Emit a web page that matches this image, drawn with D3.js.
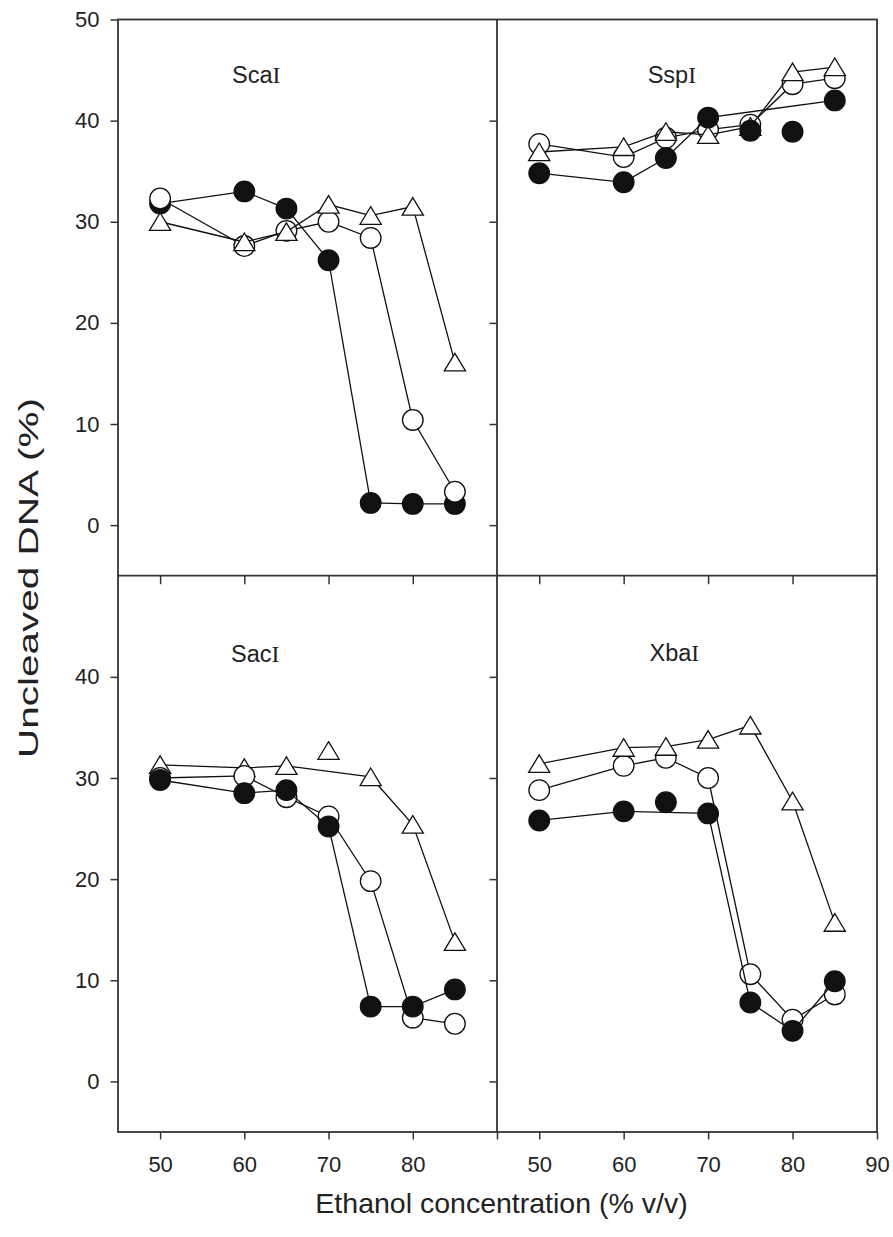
<!DOCTYPE html>
<html>
<head>
<meta charset="utf-8">
<script src="https://cdn.jsdelivr.net/npm/d3@7"></script>
<style>
  html, body { margin: 0; padding: 0; background: #fff; }
  svg { display: block; }
  text { font-family: "Liberation Sans", Arial, sans-serif; fill: #222; }
</style>
</head>
<body>
<svg id="chart" width="893" height="1237"></svg>
<script>
// Ethanol concentrations (% v/v) at which each digest was measured
const conc = [50, 60, 65, 70, 75, 80, 85];

// Uncleaved DNA (%) per enzyme, three conditions each
const scaFilled = [31.8, 33.0, 31.3, 26.2, 2.2, 2.1, 2.1];
const scaOpen   = [32.3, 27.6, 29.1, 30.0, 28.4, 10.4, 3.3];
const scaTri    = [30.0, 28.0, 29.0, 31.7, 30.6, 31.5, 16.1];

const sspFilled = [34.8, 33.9, 36.3, 40.3, 39.0, 38.9, 42.0];
const sspOpen   = [37.7, 36.4, 38.3, 39.1, 39.6, 43.6, 44.2];
const sspTri    = [36.9, 37.4, 38.9, 38.6, 39.4, 44.8, 45.3];

const sacFilled = [29.8, 28.5, 28.8, 25.2, 7.4, 7.4, 9.1];
const sacOpen   = [30.0, 30.2, 28.1, 26.2, 19.8, 6.3, 5.7];
const sacTri    = [31.3, 31.0, 31.2, 32.7, 30.1, 25.4, 13.8];

const xbaFilled = [25.8, 26.7, 27.6, 26.5, 7.8, 5.0, 9.9];
const xbaOpen   = [28.8, 31.2, 32.0, 30.0, 10.6, 6.1, 8.6];
const xbaTri    = [31.4, 33.0, 33.1, 33.8, 35.2, 27.7, 15.7];

// Concentrations plotted as stand-alone symbols (left out of the connecting line)
const sspFilledUnjoined = [75, 80];
const sacTriUnjoined = [70];
const xbaFilledUnjoined = [65];

// Axis ticks
const xTicks = [50, 60, 70, 80, 90];
const yTicksTop = [0, 10, 20, 30, 40, 50];
const yTicksBottom = [0, 10, 20, 30, 40];

// Panel titles: enzyme name (sans part, roman numeral added when drawn)
const enzymes = ["Sca", "Ssp", "Sac", "Xba"];

// ---------------- layout ----------------
const plotL = 118, plotM = 497, plotR = 877;
const plotT = 19.5, plotS = 575.7, plotB = 1132;
const tickLen = 7.5;

const svg = d3.select("#chart");

const xLeft  = d3.scaleLinear().domain([45, 90]).range([plotL, plotM]);
const xRight = d3.scaleLinear().domain([45, 90]).range([plotM, plotR]);
const yTop    = d3.scaleLinear().domain([-5, 50]).range([plotS, plotT]);
const yBottom = d3.scaleLinear().domain([-5, 50]).range([plotB, plotS]);

function series(vals, unjoined, kind) {
  return { pts: conc.map((c, i) => ({ x: c, y: vals[i], joined: !(unjoined || []).includes(c) })), kind };
}

const panels = [
  { name: enzymes[0], x: xLeft,  y: yTop,    tx: 61.4, ty: 43.7,
    order: [series(scaFilled, null, "filled"), series(scaOpen, null, "open"), series(scaTri, null, "tri")] },
  { name: enzymes[1], x: xRight, y: yTop,    tx: 65.7, ty: 43.7,
    order: [series(sspOpen, null, "open"), series(sspTri, null, "tri"), series(sspFilled, sspFilledUnjoined, "filled")] },
  { name: enzymes[2], x: xLeft,  y: yBottom, tx: 61.3, ty: 41.5,
    order: [series(sacTri, sacTriUnjoined, "tri"), series(sacOpen, null, "open"), series(sacFilled, null, "filled")] },
  { name: enzymes[3], x: xRight, y: yBottom, tx: 66.0, ty: 41.6,
    order: [series(xbaOpen, null, "open"), series(xbaTri, null, "tri"), series(xbaFilled, xbaFilledUnjoined, "filled")] }
];

const triPath = "M0,-9L10.6,8.6L-10.6,8.6Z";
const R = 10.3;

panels.forEach(p => {
  const g = svg.append("g");
  const line = d3.line().x(d => p.x(d.x)).y(d => p.y(d.y));
  p.order.forEach(s => {
    const joined = s.pts.filter(d => d.joined);
    g.append("path")
      .attr("d", line(joined))
      .attr("fill", "none")
      .attr("stroke", "#111")
      .attr("stroke-width", 1.3);
    const sel = g.selectAll(null).data(s.pts).enter();
    if (s.kind === "tri") {
      sel.append("path")
        .attr("d", triPath)
        .attr("transform", d => `translate(${p.x(d.x)},${p.y(d.y)})`)
        .attr("fill", "#fff").attr("stroke", "#111").attr("stroke-width", 1.3)
        .attr("stroke-linejoin", "miter");
    } else {
      sel.append("circle")
        .attr("cx", d => p.x(d.x)).attr("cy", d => p.y(d.y)).attr("r", R)
        .attr("fill", s.kind === "filled" ? "#111" : "#fff")
        .attr("stroke", "#111").attr("stroke-width", 1.3);
    }
  });
  const t = g.append("text")
    .attr("x", p.x(p.tx)).attr("y", p.y(p.ty))
    .attr("text-anchor", "middle")
    .style("font-size", "23.5px");
  t.append("tspan").text(p.name);
  t.append("tspan").text("I").style("font-family", '"Liberation Serif", "Times New Roman", serif');
});

// ---------------- axes ----------------
function styleAxis(sel, labels) {
  sel.select(".domain").remove();
  sel.selectAll(".tick line").attr("stroke", "#333").attr("stroke-width", 1.5);
  sel.selectAll(".tick text").style("font-size", "22px")
    .style("font-family", '"Liberation Sans", Arial, sans-serif').attr("fill", "#222");
  if (!labels) sel.selectAll(".tick text").remove();
}

// left axes (outward) with labels
svg.append("g").attr("transform", `translate(${plotL},0)`)
  .call(d3.axisLeft(yTop).tickValues(yTicksTop).tickSize(tickLen).tickPadding(11))
  .call(s => styleAxis(s, true));
svg.append("g").attr("transform", `translate(${plotL},0)`)
  .call(d3.axisLeft(yBottom).tickValues(yTicksBottom).tickSize(tickLen).tickPadding(11))
  .call(s => styleAxis(s, true));

// mirrored ticks on the inner side of the left panels
svg.append("g").attr("transform", `translate(${plotM},0)`)
  .call(d3.axisLeft(yTop).tickValues(yTicksTop.slice(0, 5)).tickSize(tickLen))
  .call(s => styleAxis(s, false));
svg.append("g").attr("transform", `translate(${plotM},0)`)
  .call(d3.axisLeft(yBottom).tickValues(yTicksBottom).tickSize(tickLen))
  .call(s => styleAxis(s, false));

// bottom axes (outward) with labels
svg.append("g").attr("transform", `translate(0,${plotB})`)
  .call(d3.axisBottom(xLeft).tickValues(xTicks).tickSize(tickLen).tickPadding(17)
    .tickFormat(d => d === 90 ? "" : d))
  .call(s => styleAxis(s, true));
svg.append("g").attr("transform", `translate(0,${plotB})`)
  .call(d3.axisBottom(xRight).tickValues(xTicks).tickSize(tickLen).tickPadding(17))
  .call(s => styleAxis(s, true));

// inward ticks along the top of the lower panels
[xLeft, xRight].forEach(xs => {
  svg.append("g").attr("transform", `translate(0,${plotS})`)
    .call(d3.axisBottom(xs).tickValues(xTicks.slice(0, 4)).tickSize(tickLen + 1))
    .call(s => styleAxis(s, false));
});

// panel frames
const frame = svg.append("g").attr("fill", "none").attr("stroke", "#333").attr("stroke-width", 1.8);
frame.append("rect").attr("x", plotL).attr("y", plotT).attr("width", plotR - plotL).attr("height", plotB - plotT);
frame.append("line").attr("x1", plotM).attr("x2", plotM).attr("y1", plotT).attr("y2", plotB);
frame.append("line").attr("x1", plotL).attr("x2", plotR).attr("y1", plotS).attr("y2", plotS);

// axis titles (the y title is drawn stretched along its baseline)
svg.append("text")
  .attr("transform", `translate(38,578) rotate(-90) scale(1.5,1)`)
  .attr("text-anchor", "middle")
  .style("font-size", "27px")
  .text("Uncleaved DNA (%)");

svg.append("text")
  .attr("x", (plotL + plotR) / 2 + 4).attr("y", 1213)
  .attr("text-anchor", "middle")
  .style("font-size", "28.5px")
  .text("Ethanol concentration (% v/v)");
</script>
</body>
</html>
